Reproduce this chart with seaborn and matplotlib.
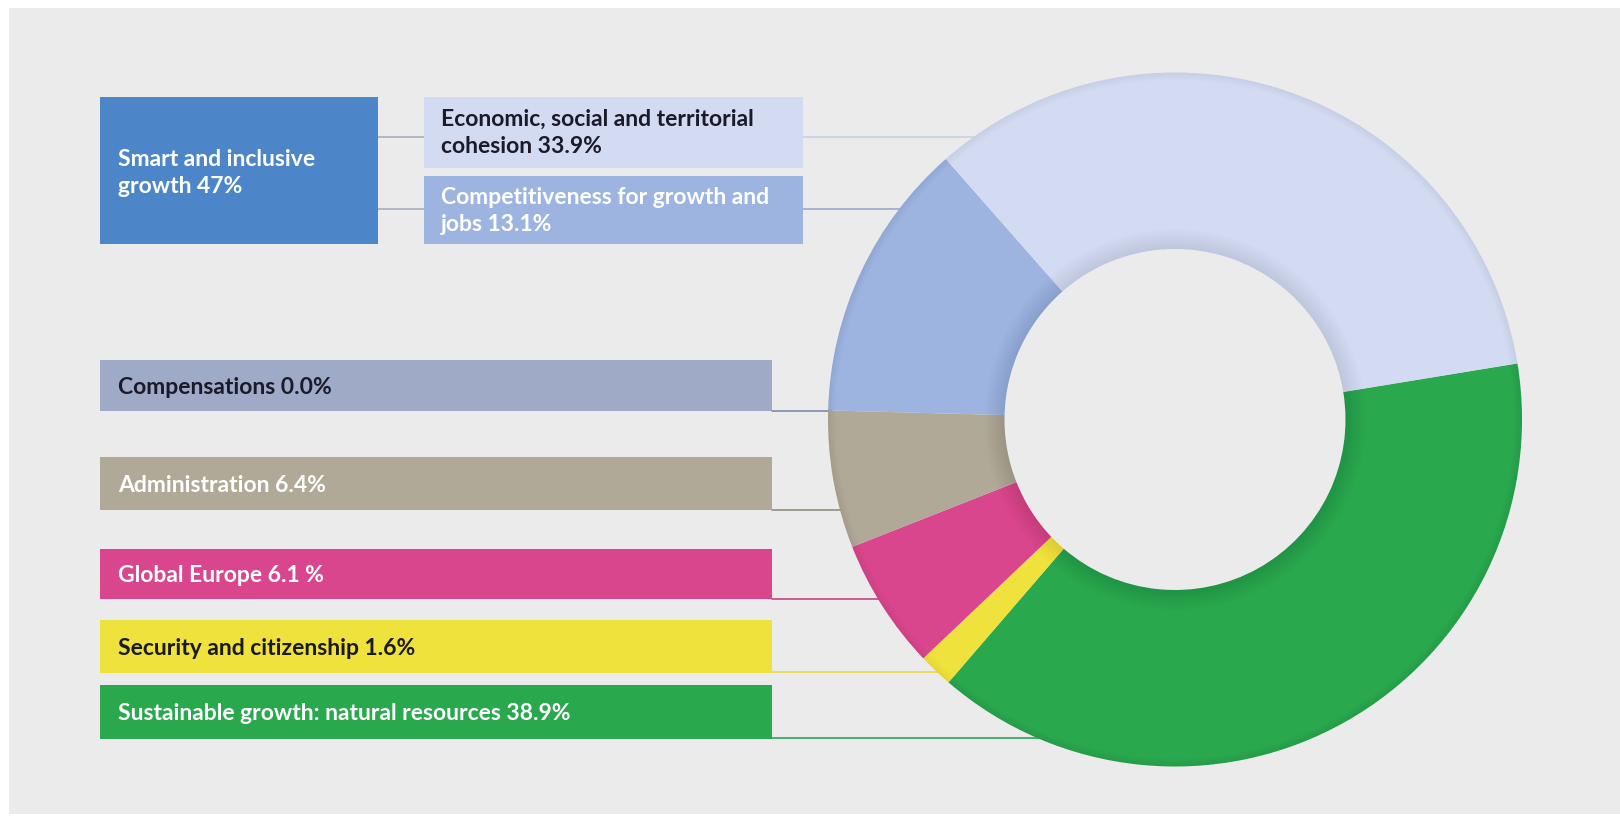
import numpy as np
import matplotlib
matplotlib.use("Agg")
import matplotlib.pyplot as plt
from matplotlib.patches import Rectangle, Wedge
import seaborn as sns

# ---- data ----
categories = ["Sustainable growth: natural resources", "Security and citizenship",
              "Global Europe", "Administration", "Compensations",
              "Competitiveness for growth and jobs", "Economic, social and territorial cohesion"]
shares = [38.9, 1.6, 6.1, 6.4, 0.0, 13.1, 33.9]
group_label = "Smart and inclusive\ngrowth 47%"
box_labels = {
    "Economic, social and territorial cohesion": "Economic, social and territorial\ncohesion 33.9%",
    "Competitiveness for growth and jobs": "Competitiveness for growth and\njobs 13.1%",
    "Compensations": "Compensations 0.0%",
    "Administration": "Administration 6.4%",
    "Global Europe": "Global Europe 6.1 %",
    "Security and citizenship": "Security and citizenship 1.6%",
    "Sustainable growth: natural resources": "Sustainable growth: natural resources 38.9%",
}

# ---- style ----
sns.set_theme(style="white")
plt.rcParams["font.family"] = ["Lato", "DejaVu Sans"]

ring_colors = {
    "Sustainable growth: natural resources": "#2aa84e",
    "Security and citizenship": "#f0e23c",
    "Global Europe": "#d9468e",
    "Administration": "#b1a997",
    "Compensations": "#9eaac6",
    "Competitiveness for growth and jobs": "#9db4e0",
    "Economic, social and territorial cohesion": "#d3dbf2",
}
text_colors = {
    "Sustainable growth: natural resources": "white",
    "Security and citizenship": "#1a1a1a",
    "Global Europe": "white",
    "Administration": "white",
    "Compensations": "#1a1a2a",
    "Competitiveness for growth and jobs": "white",
    "Economic, social and territorial cohesion": "#1a1a2a",
}
line_colors = {
    "Sustainable growth: natural resources": "#3aa860",
    "Security and citizenship": "#e8dc50",
    "Global Europe": "#c8508a",
    "Administration": "#9a9488",
    "Compensations": "#8792ad",
    "Competitiveness for growth and jobs": "#9aa8c8",
    "Economic, social and territorial cohesion": "#c8d0e2",
}

W, H = 1620, 818
fig = plt.figure(figsize=(W / 100, H / 100), dpi=100)
fig.patch.set_facecolor("white")
ax = fig.add_axes([0, 0, 1, 1])

def Y(y_top):
    return H - y_top

# background panel
ax.add_patch(Rectangle((9, Y(814)), W - 9, 806, facecolor="#ebebeb", edgecolor="none", zorder=0))

# donut geometry
cx, cy = 1175, Y(419.5)
R, r_in = 347, 170.5

wedges, _ = ax.pie(shares, colors=[ring_colors[c] for c in categories],
                   startangle=9.3, counterclock=False, center=(cx, cy), radius=R,
                   wedgeprops=dict(width=R - r_in, edgecolor="none", linewidth=0),
                   frame=False)
for w in wedges:
    w.set_zorder(3)
ax.set_xlim(0, W)
ax.set_ylim(0, H)
ax.set_aspect("equal")
ax.axis("off")

# subtle shading (inner shadow near hole and outer rim)
for i in range(10):
    ax.add_patch(Wedge((cx, cy), r_in + 2.0 * (i + 1), 0, 360, width=2.0 * (i + 1),
                       facecolor="black", alpha=0.007, edgecolor="none", zorder=4))
for i in range(6):
    ax.add_patch(Wedge((cx, cy), R, 0, 360, width=1.3 * (i + 1),
                       facecolor="black", alpha=0.008, edgecolor="none", zorder=4))

# ---- boxes ----
def box(x0, y0, x1, y1, color):
    ax.add_patch(Rectangle((x0, Y(y1)), x1 - x0, y1 - y0, facecolor=color,
                           edgecolor="none", zorder=2))

fs = 16.5

# group box
box(100, 97, 378, 244, "#4d86c8")
ax.text(118, Y(173), group_label, color="white", fontsize=fs, va="center", ha="left",
        fontweight="bold", linespacing=1.38, zorder=5)

top_boxes = [("Economic, social and territorial cohesion", 97, 167.5, 137.4),
             ("Competitiveness for growth and jobs", 175.5, 244, 208.7)]
for cat, y0, y1, ly in top_boxes:
    box(423.6, y0, 803, y1, ring_colors[cat])
    ax.text(441, Y((y0 + y1) / 2 + 1), box_labels[cat], color=text_colors[cat], fontsize=fs,
            va="center", ha="left", fontweight="bold", linespacing=1.38, zorder=5)
    ax.plot([378, 423.6], [Y(ly), Y(ly)], color="#a6adbd", lw=1.2, zorder=1)
    xe = cx - np.sqrt(R ** 2 - (Y(ly) - cy) ** 2) + 4
    ax.plot([803, xe], [Y(ly), Y(ly)], color=line_colors[cat], lw=1.2, zorder=1)

low_boxes = [("Compensations", 359.5, 411.2),
             ("Administration", 456.7, 510.4),
             ("Global Europe", 548.6, 599.2),
             ("Security and citizenship", 619.9, 672.6),
             ("Sustainable growth: natural resources", 685, 738.7)]
for cat, y0, y1 in low_boxes:
    box(100, y0, 772, y1, ring_colors[cat])
    ax.text(118, Y((y0 + y1) / 2 + 2), box_labels[cat], color=text_colors[cat], fontsize=fs,
            va="center", ha="left", fontweight="bold", zorder=5)
    ly = y1 - 0.5
    xe = cx - np.sqrt(R ** 2 - (Y(ly) - cy) ** 2) + 4
    ax.plot([772, xe], [Y(ly), Y(ly)], color=line_colors[cat], lw=1.3, zorder=1)

fig.savefig("out.png", dpi=100, facecolor=fig.get_facecolor())
